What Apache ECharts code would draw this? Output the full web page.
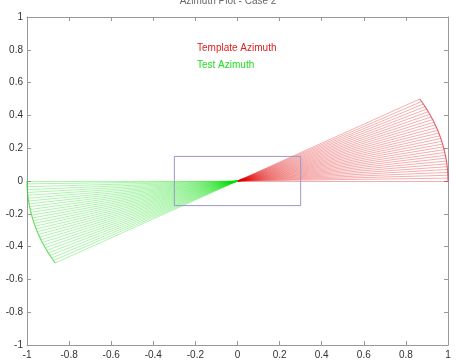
<!DOCTYPE html>
<html>
<head>
<meta charset="utf-8">
<script src="https://cdn.jsdelivr.net/npm/echarts@6/dist/echarts.min.js"></script>
<style>
html,body{margin:0;padding:0;background:#fff;}
#chart{width:456px;height:362px;}
</style>
</head>
<body>
<div id="chart"></div>
<script>
// Data
const titleText = 'Azimuth Plot - Case 2';
const templateName = 'Template Azimuth';
const testName = 'Test Azimuth';
const templateAngles = [0,1,2,3,4,5,6,7,8,9,10,11,12,13,14,15,16,17,18,19,20,21,22,23,24,25,26,27,28,29,30];
const testAngles = [180,181,182,183,184,185,186,187,188,189,190,191,192,193,194,195,196,197,198,199,200,201,202,203,204,205,206,207,208,209,210];
const rayLength = 1;
const origin = [0, 0];
const boxX = [-0.3, 0.3];
const boxY = [-0.15, 0.15];
const axisMin = -1;
const axisMax = 1;
const tickStep = 0.2;

function endpoint(deg) {
  const r = deg * Math.PI / 180;
  return [rayLength * Math.cos(r), rayLength * Math.sin(r)];
}
function rays(angles) {
  return angles.map(a => ({ coords: [origin, endpoint(a)] }));
}
function arc(angles) {
  return angles.map(a => endpoint(a));
}
const boxPts = [[boxX[0], boxY[0]], [boxX[1], boxY[0]], [boxX[1], boxY[1]], [boxX[0], boxY[1]], [boxX[0], boxY[0]]];

const FONT = 'Liberation Sans, Arial, sans-serif';
const axisCommon = {
  type: 'value', min: axisMin, max: axisMax, interval: tickStep,
  axisLine: { show: true, onZero: false, lineStyle: { color: '#999', width: 1 } },
  axisTick: { show: true, inside: true, length: 4, lineStyle: { color: '#999' } },
  splitLine: { show: false }
};

const chart = echarts.init(document.getElementById('chart'), null, { renderer: 'canvas' });
chart.setOption({
  animation: false,
  backgroundColor: '#fff',
  grid: { left: 27, right: 8, top: 17, bottom: 17, containLabel: false },
  title: {
    text: titleText, left: 'center', top: -9,
    textStyle: { fontFamily: FONT, fontSize: 10, fontWeight: 'normal', color: '#666' }
  },
  graphic: [
    { type: 'text', left: 197, top: 43, style: { text: templateName, fill: '#e02020', font: '10px ' + FONT } },
    { type: 'text', left: 197, top: 60, style: { text: testName, fill: '#20dd20', font: '10px ' + FONT } }
  ],
  xAxis: [
    Object.assign({}, axisCommon, { position: 'bottom',
      axisLabel: { show: true, color: '#333', fontFamily: FONT, fontSize: 10, margin: 5 } }),
    Object.assign({}, axisCommon, { position: 'top', axisLabel: { show: false } })
  ],
  yAxis: [
    Object.assign({}, axisCommon, { position: 'left',
      axisLabel: { show: true, color: '#333', fontFamily: FONT, fontSize: 10, margin: 4 } }),
    Object.assign({}, axisCommon, { position: 'right', axisLabel: { show: false } })
  ],
  series: [
    {
      type: 'lines', coordinateSystem: 'cartesian2d', polyline: false,
      data: rays(templateAngles),
      lineStyle: { color: '#e00000', width: 0.8, opacity: 0.4 },
      silent: true
    },
    {
      type: 'lines', coordinateSystem: 'cartesian2d', polyline: false,
      data: rays(testAngles),
      lineStyle: { color: '#00dd00', width: 0.8, opacity: 0.4 },
      silent: true
    },
    {
      type: 'line', data: arc(templateAngles), showSymbol: false, smooth: false,
      lineStyle: { color: '#d03040', width: 1.2, opacity: 0.7 }, silent: true
    },
    {
      type: 'line', data: arc(testAngles), showSymbol: false, smooth: false,
      lineStyle: { color: '#30d030', width: 1.2, opacity: 0.7 }, silent: true
    },
    {
      type: 'line', data: boxPts, showSymbol: false,
      lineStyle: { color: '#9999c8', width: 1 }, silent: true
    }
  ]
});
</script>
</body>
</html>
